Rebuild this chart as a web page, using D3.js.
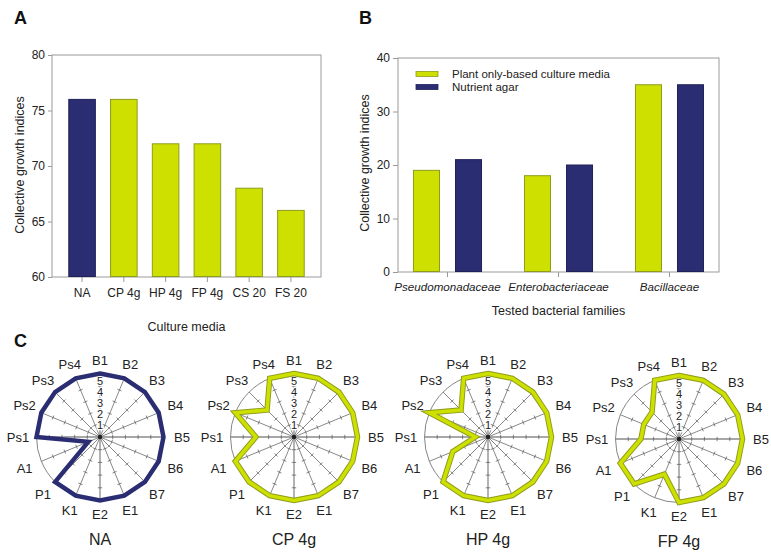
<!DOCTYPE html>
<html>
<head>
<meta charset="utf-8">
<script src="https://cdn.jsdelivr.net/npm/d3@7"></script>
<style>
  html, body { margin: 0; padding: 0; background: #fff; }
  svg { display: block; font-family: "Liberation Sans", Arial, Helvetica, sans-serif; }
</style>
</head>
<body>
<svg id="chart" width="771" height="557"></svg>
<script>
// ---------- DATA ----------
const mediaCats = ["NA", "CP 4g", "HP 4g", "FP 4g", "CS 20", "FS 20"];
const mediaVals = [76, 76, 72, 72, 68, 66];
const mediaTicks = [60, 65, 70, 75, 80];

const families = ["Pseudomonadaceae", "Enterobacteriaceae", "Bacillaceae"];
const seriesNames = ["Plant only-based culture media", "Nutrient agar"];
const plantVals = [19, 18, 35];
const agarVals = [21, 20, 35];
const familyTicks = [0, 10, 20, 30, 40];

const radarAxes = ["B1", "B2", "B3", "B4", "B5", "B6", "B7", "E1", "E2", "K1", "P1", "A1", "Ps1", "Ps2", "Ps3", "Ps4"];
const radarTitles = ["NA", "CP 4g", "HP 4g", "FP 4g"];
const radarNA = [5, 5, 5, 5, 5, 5, 5, 5, 5, 5, 5, 1, 5, 5, 5, 5];
const radarCP = [5, 5, 5, 5, 5, 5, 5, 5, 5, 5, 5, 5, 3, 5, 3, 5];
const radarHP = [5, 5, 5, 5, 5, 5, 5, 5, 5, 5, 5, 3, 1, 5, 3, 5];
const radarFP = [5, 5, 5, 5, 5, 5, 5, 5, 5, 3, 5, 5, 3, 3, 3, 5];
const radarTicks = [1, 2, 3, 4, 5];

// ---------- STYLE ----------
const NAVY = "#2b2d72", NAVY_EDGE = "#1f2158";
const LIME = "#cde000", LIME_EDGE = "#8e9c1c";
const AXIS = "#9a9a9a", TEXT = "#222";

const svg = d3.select("#chart");
svg.append("rect").attr("width", 771).attr("height", 557).attr("fill", "#fff");

function styleAxis(g) {
  g.select(".domain").remove();
  g.selectAll(".tick line").attr("stroke", AXIS);
  g.selectAll(".tick text").attr("fill", TEXT).attr("font-size", 12);
}

// ---------- PANEL A ----------
(function () {
  const L = 52, R = 321, T = 55, B = 277;
  const x = d3.scaleBand().domain(mediaCats).range([L, R]).paddingInner(0.34).paddingOuter(0.39);
  const y = d3.scaleLinear().domain([60, 80]).range([B, T]);
  const color = d3.scaleOrdinal().domain(mediaCats).range([NAVY, LIME, LIME, LIME, LIME, LIME]);
  const edge = d3.scaleOrdinal().domain(mediaCats).range([NAVY_EDGE, LIME_EDGE, LIME_EDGE, LIME_EDGE, LIME_EDGE, LIME_EDGE]);
  const g = svg.append("g");
  g.append("rect").attr("x", L).attr("y", T).attr("width", R - L).attr("height", B - T)
    .attr("fill", "none").attr("stroke", AXIS);
  g.selectAll("rect.bar").data(mediaCats).join("rect").attr("class", "bar")
    .attr("x", d => x(d) + 0.5).attr("width", x.bandwidth() - 1)
    .attr("y", (d, i) => y(mediaVals[i])).attr("height", (d, i) => y(60) - y(mediaVals[i]) - 0.5)
    .attr("fill", d => color(d)).attr("stroke", d => edge(d)).attr("stroke-width", 1);
  g.append("g").attr("transform", `translate(${L},0)`)
    .call(d3.axisLeft(y).tickValues(mediaTicks).tickSize(4).tickPadding(3)).call(styleAxis);
  g.append("g").attr("transform", `translate(0,${B})`)
    .call(d3.axisBottom(x).tickSize(5).tickPadding(6)).call(styleAxis);
  g.append("text").attr("transform", `translate(20,165) rotate(-90)`).attr("text-anchor", "middle")
    .attr("dy", "0.35em").attr("font-size", 12.5).attr("fill", TEXT).text("Collective growth indices");
  g.append("text").attr("x", (L + R) / 2).attr("y", 331).attr("text-anchor", "middle")
    .attr("font-size", 12.5).attr("fill", TEXT).text("Culture media");
  g.append("text").attr("x", 14).attr("y", 24).attr("font-size", 18).attr("font-weight", "bold")
    .attr("fill", "#111").text("A");
})();

// ---------- PANEL B ----------
(function () {
  const L = 398, R = 719, T = 58, B = 272;
  const x0 = d3.scaleBand().domain(families).range([L, R]).paddingInner(0.378).paddingOuter(0.135);
  const x1 = d3.scaleBand().domain(seriesNames).range([0, x0.bandwidth()]).paddingInner(0.357);
  const y = d3.scaleLinear().domain([0, 40]).range([B, T]);
  const color = d3.scaleOrdinal().domain(seriesNames).range([LIME, NAVY]);
  const edge = d3.scaleOrdinal().domain(seriesNames).range([LIME_EDGE, NAVY_EDGE]);
  const rows = families.map((f, i) => ({ f, vals: [plantVals[i], agarVals[i]] }));
  const g = svg.append("g");
  g.append("rect").attr("x", L).attr("y", T).attr("width", R - L).attr("height", B - T)
    .attr("fill", "none").attr("stroke", AXIS);
  const grp = g.selectAll("g.grp").data(rows).join("g").attr("class", "grp")
    .attr("transform", d => `translate(${x0(d.f)},0)`);
  grp.selectAll("rect").data(d => seriesNames.map((s, j) => ({ s, v: d.vals[j] }))).join("rect")
    .attr("x", d => x1(d.s) + 0.5).attr("width", x1.bandwidth() - 1)
    .attr("y", d => y(d.v)).attr("height", d => y(0) - y(d.v) - 0.5)
    .attr("fill", d => color(d.s)).attr("stroke", d => edge(d.s));
  g.append("g").attr("transform", `translate(${L},0)`)
    .call(d3.axisLeft(y).tickValues(familyTicks).tickSize(5).tickPadding(3)).call(styleAxis);
  const xa = g.append("g").attr("transform", `translate(0,${B})`)
    .call(d3.axisBottom(x0).tickSize(5).tickPadding(5.5)).call(styleAxis);
  xa.selectAll(".tick text").attr("font-style", "italic").attr("font-size", 11.6);
  // legend
  const lg = g.append("g");
  seriesNames.forEach((s, i) => {
    lg.append("rect").attr("x", 416).attr("y", 71.5 + i * 13).attr("width", 22).attr("height", 5)
      .attr("fill", color(s)).attr("stroke", edge(s)).attr("stroke-width", 0.8);
    lg.append("text").attr("x", 452).attr("y", 77.5 + i * 13).attr("font-size", 11.5)
      .attr("fill", TEXT).text(s);
  });
  g.append("text").attr("transform", `translate(365,163) rotate(-90)`).attr("text-anchor", "middle")
    .attr("dy", "0.35em").attr("font-size", 12.5).attr("fill", TEXT).text("Collective growth indices");
  g.append("text").attr("x", (L + R) / 2).attr("y", 315).attr("text-anchor", "middle")
    .attr("font-size", 12.5).attr("fill", TEXT).text("Tested bacterial families");
  g.append("text").attr("x", 359).attr("y", 24).attr("font-size", 18).attr("font-weight", "bold")
    .attr("fill", "#111").text("B");
})();

// ---------- PANEL C (radar) ----------
(function () {
  svg.append("text").attr("x", 14).attr("y", 347).attr("font-size", 18).attr("font-weight", "bold")
    .attr("fill", "#111").text("C");
  const seriesList = [radarNA, radarCP, radarHP, radarFP];
  const centers = [[100, 437], [294, 437], [488, 437], [679, 439]];
  const R = 63.5;
  const r = d3.scaleLinear().domain([0, 5]).range([0, R]);
  const ang = d3.scaleLinear().domain([0, radarAxes.length]).range([0, 2 * Math.PI]);
  seriesList.forEach((vals, si) => {
    const [cx, cy] = centers[si];
    const g = svg.append("g").attr("transform", `translate(${cx},${cy})`);
    g.append("circle").attr("r", R).attr("fill", "none").attr("stroke", "#777").attr("stroke-width", 0.9);
    radarAxes.forEach((a, i) => {
      const t = ang(i), sx = Math.sin(t), sy = -Math.cos(t);
      const main = i % 4 === 0;
      g.append("line").attr("x1", 0).attr("y1", 0).attr("x2", R * sx).attr("y2", R * sy)
        .attr("stroke", main ? "#8a8a8a" : "#555").attr("stroke-width", main ? 1.3 : 0.7);
      radarTicks.slice(0, 4).forEach(k => {
        const px = r(k) * sx, py = r(k) * sy, h = 2.2;
        g.append("line").attr("x1", px + h * sy).attr("y1", py - h * sx)
          .attr("x2", px - h * sy).attr("y2", py + h * sx)
          .attr("stroke", "#555").attr("stroke-width", 0.7);
      });
      const rl = 77 + 5 * Math.abs(sx);
      g.append("text").attr("x", rl * sx).attr("y", rl * sy).attr("dy", "0.36em")
        .attr("text-anchor", "middle").attr("font-size", 13).attr("fill", TEXT).text(a);
    });
    g.append("circle").attr("r", 2.2).attr("fill", "#222");
    // tick labels along B1 axis
    radarTicks.forEach(k => {
      g.append("text").attr("x", 0).attr("y", -(r(k) * 0.86 + 1)).attr("dy", "0.36em")
        .attr("text-anchor", "middle").attr("font-size", 11).attr("fill", TEXT)
        .attr("stroke", "#fff").attr("stroke-width", 2.5).attr("paint-order", "stroke").text(k);
    });
    const line = d3.lineRadial().angle((d, i) => ang(i)).radius(d => r(d)).curve(d3.curveLinearClosed);
    if (si === 0) {
      g.append("path").attr("d", line(vals)).attr("fill", "none").attr("stroke", NAVY)
        .attr("stroke-width", 4.5).attr("stroke-linejoin", "miter");
    } else {
      g.append("path").attr("d", line(vals)).attr("fill", "none").attr("stroke", LIME_EDGE)
        .attr("stroke-width", 5.5).attr("stroke-linejoin", "miter");
      g.append("path").attr("d", line(vals)).attr("fill", "none").attr("stroke", LIME)
        .attr("stroke-width", 3.6).attr("stroke-linejoin", "miter");
    }
    g.append("text").attr("x", 0).attr("y", 108).attr("text-anchor", "middle")
      .attr("font-size", 16).attr("fill", TEXT).text(radarTitles[si]);
  });
})();
</script>
</body>
</html>
